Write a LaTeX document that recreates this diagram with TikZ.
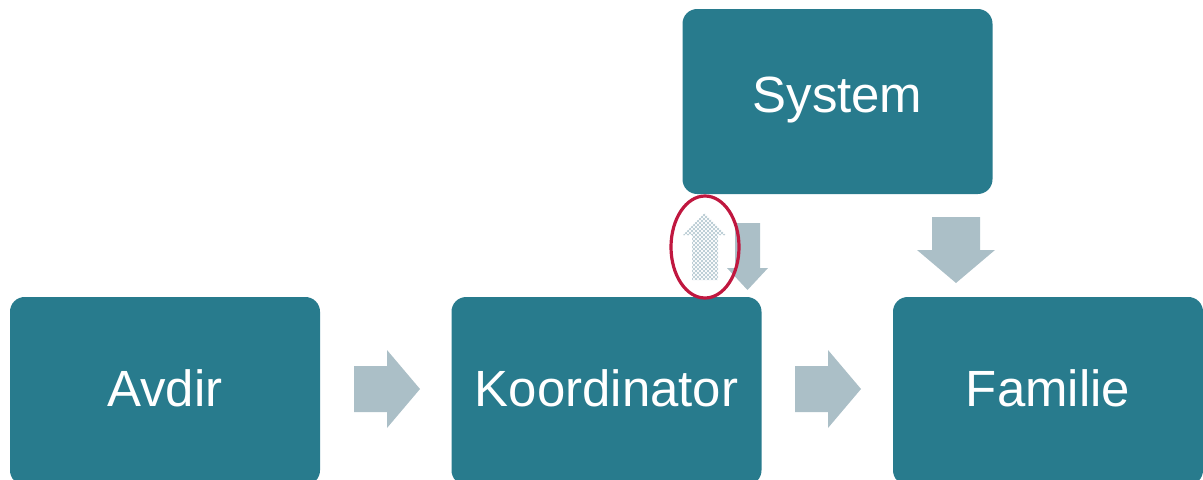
\documentclass[tikz,border=0pt]{standalone}
\usepackage{fontspec}
\setmainfont{Liberation Sans}
\usetikzlibrary{patterns}
\definecolor{boxteal}{HTML}{287B8D}
\definecolor{arrgray}{HTML}{ABBFC7}
\definecolor{hatch}{HTML}{B3C7D0}
\definecolor{ringred}{HTML}{C0173F}
\tikzset{
  box/.style={fill=boxteal, draw=none, rounded corners=11pt, minimum width=232.5pt, minimum height=141pt, inner sep=0pt},
  lbl/.style={text=white, font=\fontsize{38.2}{45}\selectfont, inner sep=0pt, anchor=center},
  blockarrow/.style={fill=arrgray, draw=none},
  ring/.style={draw=ringred, line width=2.4pt}
}
\begin{document}
\begin{tikzpicture}[x=0.75pt, y=-0.75pt]
\useasboundingbox (0,0) rectangle (1203,479);
\clip (0,0) rectangle (1203,479);
% boxes
\node[box] (avdir) at (165,391) {};
\node[box] (koord) at (606.5,391) {};
\node[box] (fam) at (1048,391) {};
\node[box, minimum height=138.75pt] (sys) at (837.5,101.5) {};
% labels
\node[lbl] (avdirT) at (165,388) {Avdir};
\node[lbl] (koordT) at (606.5,388) {Koordinator};
\node[lbl] (famT) at (1048,388) {Familie};
\node[lbl] (sysT) at (837.5,100) {System};
% right arrows
\fill[blockarrow] (354,366) -- (387,366) -- (387,350) -- (420,389) -- (387,428) -- (387,412) -- (354,412) -- cycle;
\fill[blockarrow] (795,366) -- (828,366) -- (828,350) -- (861,389) -- (828,428) -- (828,412) -- (795,412) -- cycle;
% down arrow to Familie
\fill[blockarrow] (932,217) -- (980,217) -- (980,250) -- (995,250) -- (956,283) -- (917,250) -- (932,250) -- cycle;
% down arrow System -> Koordinator
\fill[blockarrow] (735,223) -- (760,223) -- (760,268) -- (768,268) -- (747.5,290) -- (727,268) -- (735,268) -- cycle;
% hatched up arrow
\path[fill=white] (692,280) -- (718,280) -- (718,235) -- (726,235) -- (704.5,213) -- (683,235) -- (692,235) -- cycle;
\path[pattern=north east lines, pattern color=hatch] (692,280) -- (718,280) -- (718,235) -- (726,235) -- (704.5,213) -- (683,235) -- (692,235) -- cycle;
\path[pattern=north west lines, pattern color=hatch] (692,280) -- (718,280) -- (718,235) -- (726,235) -- (704.5,213) -- (683,235) -- (692,235) -- cycle;
% red ellipse
\draw[ring] (705,247) ellipse [x radius=34, y radius=51];
\end{tikzpicture}
\end{document}
